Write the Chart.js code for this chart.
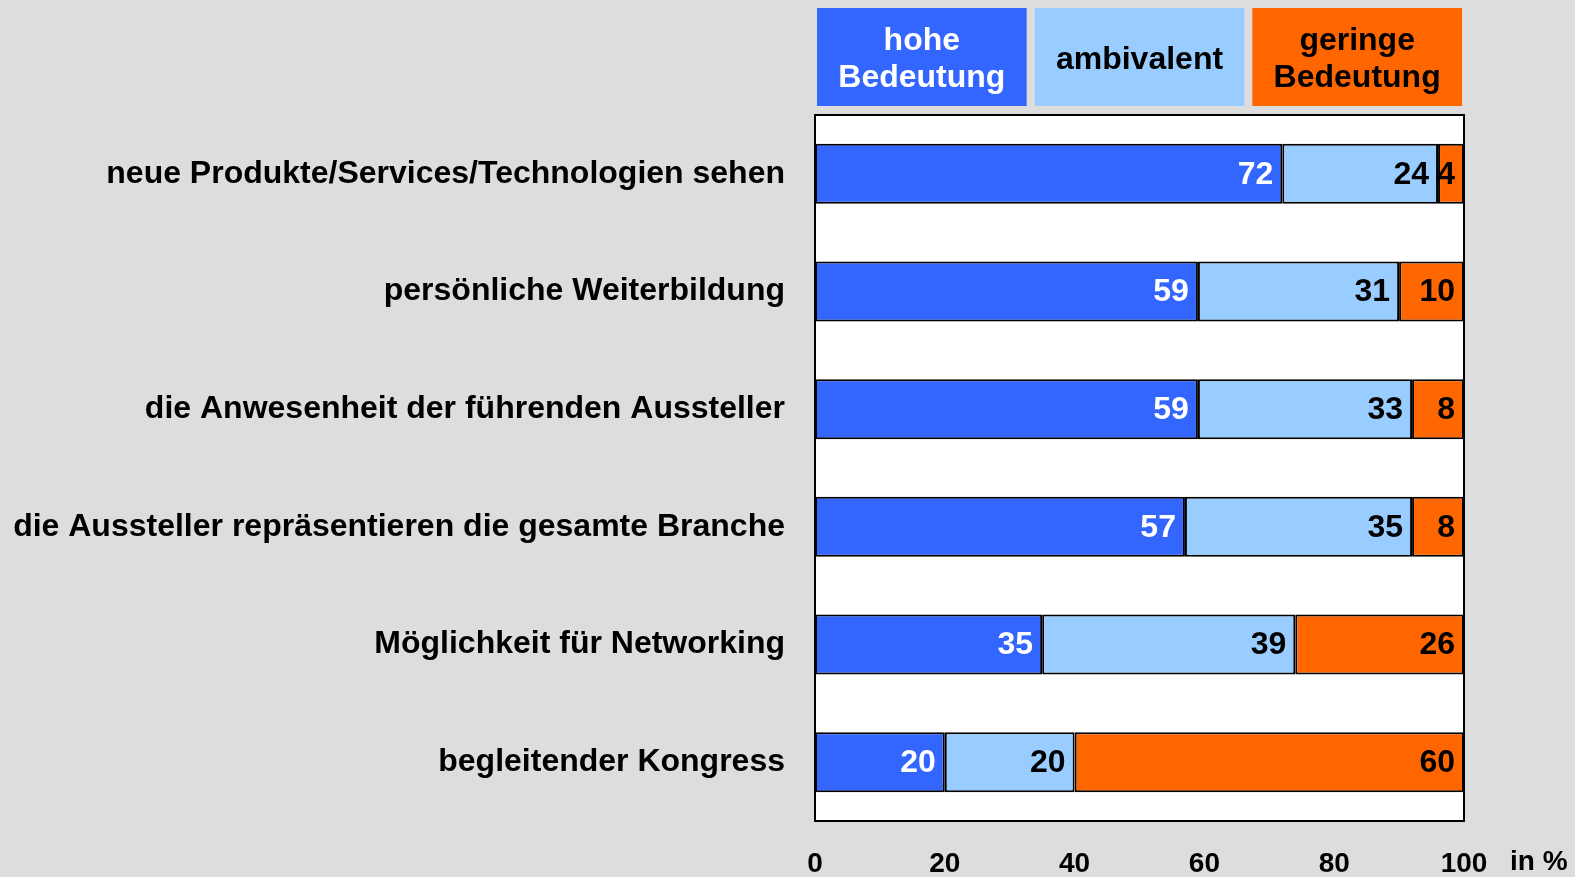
<!DOCTYPE html>
<html>
<head>
<meta charset="utf-8">
<script src="https://cdn.jsdelivr.net/npm/chart.js@4/dist/chart.umd.min.js"></script>
<style>
  html, body { margin: 0; padding: 0; background: #dddddd; }
  #wrap { width: 1575px; height: 877px; }
</style>
</head>
<body>
<div id="wrap"><canvas id="chart"></canvas></div>
<script>
const categories = [
  'neue Produkte/Services/Technologien sehen',
  'persönliche Weiterbildung',
  'die Anwesenheit der führenden Aussteller',
  'die Aussteller repräsentieren die gesamte Branche',
  'Möglichkeit für Networking',
  'begleitender Kongress'
];
const hoheBedeutung = [72, 59, 59, 57, 35, 20];
const ambivalent = [24, 31, 33, 35, 39, 20];
const geringeBedeutung = [4, 10, 8, 8, 26, 60];
const seriesNames = [['hohe', 'Bedeutung'], ['ambivalent'], ['geringe', 'Bedeutung']];
const xTicks = [0, 20, 40, 60, 80, 100];
const unitLabel = 'in %';

const FONT = '"Liberation Sans", Arial, sans-serif';
const colors = ['#3366ff', '#99ccff', '#ff6600'];
const textColors = ['#ffffff', '#000000', '#000000'];

const boxPlugin = {
  id: 'boxPlugin',
  beforeDatasetsDraw(chart) {
    const { ctx, chartArea: a } = chart;
    ctx.save();
    ctx.fillStyle = '#ffffff';
    ctx.fillRect(a.left, a.top, a.right - a.left, a.bottom - a.top);
    ctx.restore();
  },
  afterDatasetsDraw(chart) {
    const { ctx, chartArea: a } = chart;
    ctx.save();
    // values inside bars
    ctx.font = 'bold 32px ' + FONT;
    ctx.textAlign = 'right';
    ctx.textBaseline = 'middle';
    chart.data.datasets.forEach((ds, i) => {
      chart.getDatasetMeta(i).data.forEach((bar, j) => {
        ctx.fillStyle = textColors[i];
        ctx.fillText(ds.data[j], bar.x - 9, bar.y + 1);
      });
    });
    // frame
    ctx.strokeStyle = '#000';
    ctx.lineWidth = 2;
    ctx.strokeRect(a.left, a.top, a.right - a.left, a.bottom - a.top);
    // legend boxes
    const gap = 8;
    const w = (a.right - a.left - 4 - 2 * gap) / 3;
    ctx.textAlign = 'center';
    chart.data.datasets.forEach((ds, i) => {
      const x = a.left + 2 + i * (w + gap);
      ctx.fillStyle = colors[i];
      ctx.fillRect(x, 8, w, 98);
      ctx.fillStyle = textColors[i];
      ctx.font = 'bold 32px ' + FONT;
      const lines = seriesNames[i];
      const lh = 37;
      const y0 = 60 - (lines.length - 1) * lh / 2;
      lines.forEach((t, k) => ctx.fillText(t, x + w / 2, y0 + k * lh));
    });
    // unit
    ctx.fillStyle = '#000';
    ctx.font = 'bold 28px ' + FONT;
    ctx.textAlign = 'left';
    ctx.textBaseline = 'top';
    ctx.fillText(unitLabel, 1510, chart.scales.x.top + 27);
    ctx.restore();
  }
};

const datasets = [hoheBedeutung, ambivalent, geringeBedeutung].map((d, i) => ({
  label: seriesNames[i].join(' '),
  data: d,
  backgroundColor: colors[i],
  borderColor: '#000000',
  borderWidth: 2,
  borderSkipped: false,
  barPercentage: 0.51,
  categoryPercentage: 1.0
}));

new Chart(document.getElementById('chart'), {
  type: 'bar',
  data: { labels: categories, datasets },
  options: {
    indexAxis: 'y',
    responsive: true,
    maintainAspectRatio: false,
    animation: false,
    layout: { padding: { top: 115, right: 111, bottom: 0, left: 0 } },
    plugins: { legend: { display: false }, tooltip: { enabled: false } },
    scales: {
      x: {
        stacked: true,
        min: 0,
        max: 100,
        afterBuildTicks(scale) { scale.ticks = xTicks.map(v => ({ value: v })); },
        afterFit(scale) { scale.height = 56; },
        grid: { display: false },
        border: { display: false },
        ticks: { color: '#000', padding: 18, font: { family: FONT, size: 28, weight: 'bold' } }
      },
      y: {
        stacked: true,
        afterFit(scale) { scale.width = 815; },
        grid: { display: false },
        border: { display: false },
        ticks: { color: '#000', padding: 22, font: { family: FONT, size: 32, weight: 'bold' } }
      }
    }
  },
  plugins: [boxPlugin]
});
</script>
</body>
</html>
